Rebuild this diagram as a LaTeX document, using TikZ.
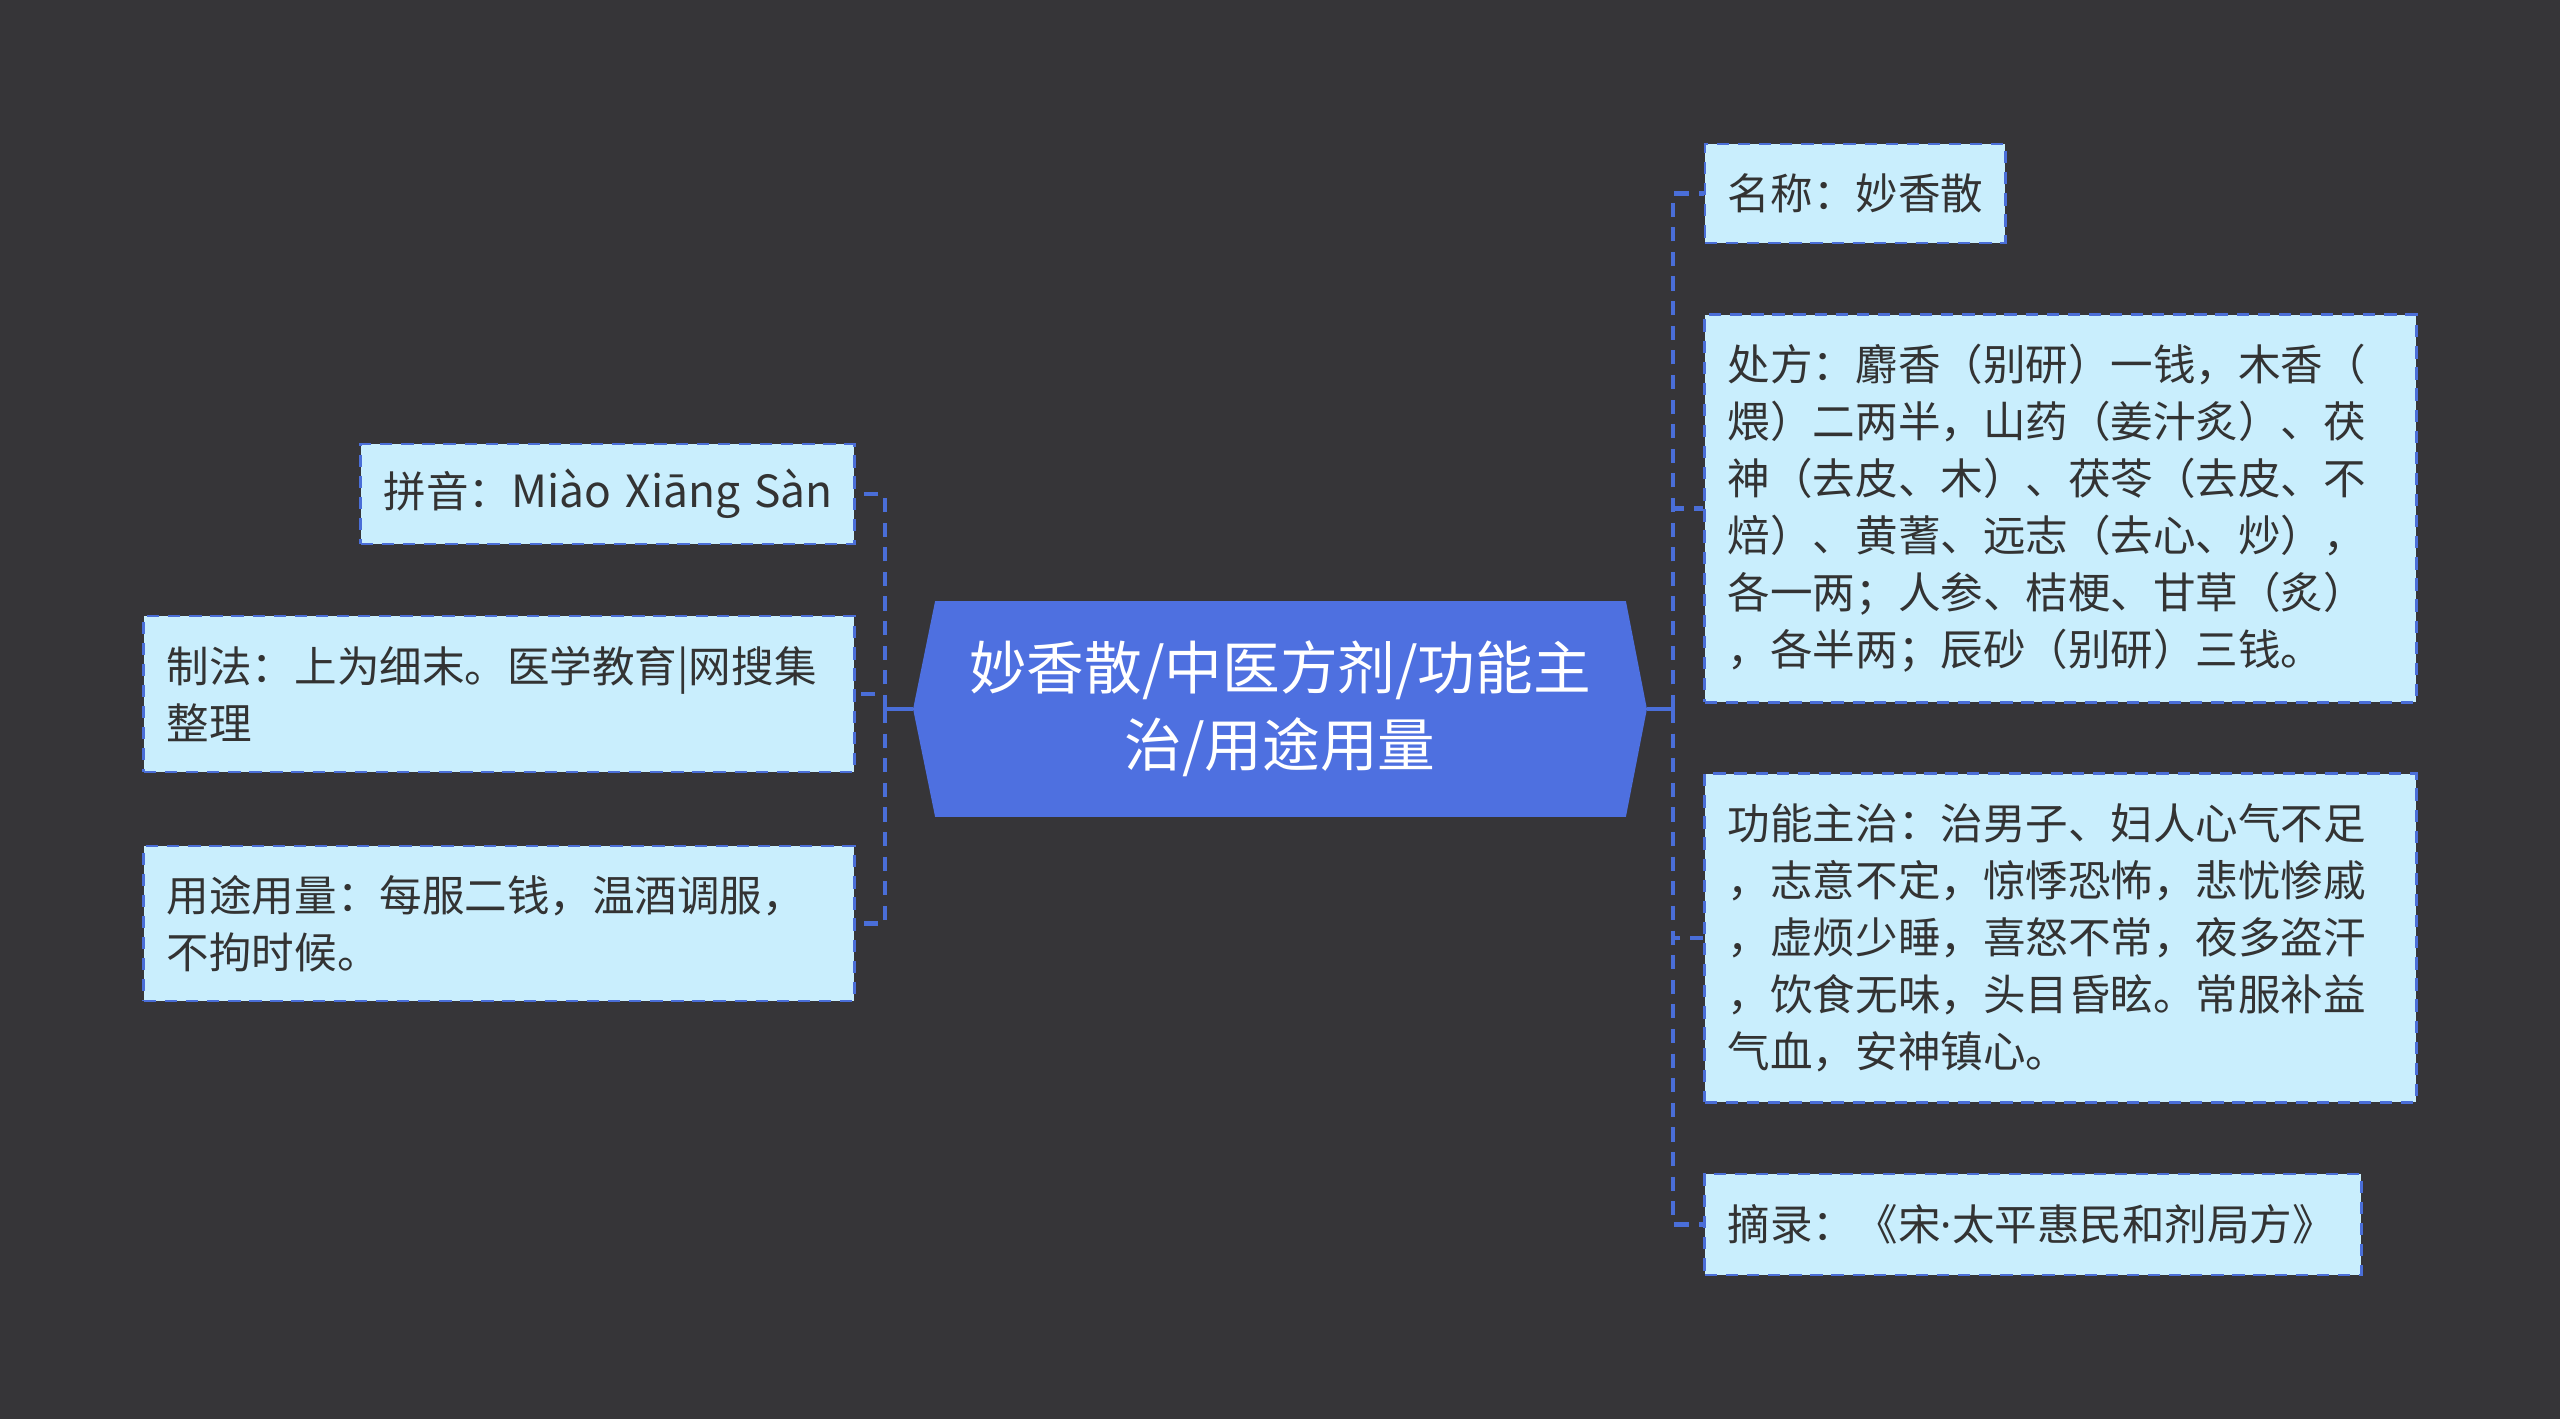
\documentclass[tikz,border=0pt]{standalone}
\usepackage{fontspec}
\usetikzlibrary{calc,backgrounds}
\newfontfamily\cjk{Noto Sans CJK SC}
\newfontfamily\latinsans{Noto Sans}
\definecolor{canvas}{HTML}{363538}
\definecolor{rootblue}{HTML}{4E70E0}
\definecolor{leaffill}{HTML}{C9EEFD}
\definecolor{edge}{HTML}{4A6ED8}
\definecolor{ink}{HTML}{333333}

\begin{document}
\begin{tikzpicture}[x=0.01cm,y=-0.01cm,
  leaf/.style={draw=edge,dash pattern=on 3.5pt off 2.5pt,line width=0.8pt,fill=leaffill,text=ink,
    font=\cjk\fontsize{12.1}{16.2}\selectfont,inner xsep=0.23cm,inner ysep=0pt,align=left},
  branch/.style={edge,line width=1.3pt,dash pattern=on 4pt off 3pt},
  trunk/.style={edge,line width=1.3pt}]
% centre
\node[minimum width=7.32cm,minimum height=2.14cm,text=white,align=center,
  font=\cjk\fontsize{16.4}{22}\selectfont] (root) at (1280,709) {妙香散/中医方剂/功能主\\治/用途用量};
% left side
\node[leaf,minimum width=4.93cm,minimum height=1.00cm,text width=4.47cm] (pinyin) at (607.5,494) {\mbox{拼音：{\fontsize{12.6}{16.2}\selectfont Miào Xiāng Sàn}}};
\node[leaf,minimum width=7.10cm,minimum height=1.56cm,text width=6.64cm] (zhifa) at (499,694) {制法：上为细末。医学教育|网搜集\\整理};
\node[leaf,minimum width=7.10cm,minimum height=1.55cm,text width=6.64cm] (yongtu) at (499,923.5) {用途用量：每服二钱，温酒调服，\\不拘时候。};
% right side
\node[leaf,minimum width=3.00cm,minimum height=0.99cm,text width=2.54cm] (mingcheng) at (1855,193.5) {名称：妙香散};
\node[leaf,minimum width=7.11cm,minimum height=3.87cm,text width=6.65cm] (chufang) at (2060.5,508.5) {处方：麝香（别研）一钱，木香（\\煨）二两半，山药（姜汁炙）、茯\\神（去皮、木）、茯苓（去皮、不\\焙）、黄蓍、远志（去心、炒），\\各一两；人参、桔梗、甘草（炙）\\，各半两；辰砂（别研）三钱。};
\node[leaf,minimum width=7.11cm,minimum height=3.28cm,text width=6.65cm] (gongneng) at (2060.5,938) {功能主治：治男子、妇人心气不足\\，志意不定，惊悸恐怖，悲忧惨戚\\，虚烦少睡，喜怒不常，夜多盗汗\\，饮食无味，头目昏眩。常服补益\\气血，安神镇心。};
\node[leaf,minimum width=6.56cm,minimum height=1.01cm,text width=6.10cm] (zhailu) at (2033,1224.5) {摘录：《宋{\latinsans ·}太平惠民和剂局方》};
\coordinate (lj) at (885,709);
\coordinate (rj) at (1673,709);
\begin{scope}[on background layer]
\fill[canvas] (0,0) rectangle (2560,1419);
\fill[rootblue] (root.west) -- ($(root.north west)+(22,0)$) -- ($(root.north east)+(-21,0)$) -- (root.east)
  -- ($(root.south east)+(-21,0)$) -- ($(root.south west)+(22,0)$) -- cycle;
\end{scope}
\draw[trunk] (root.west) -- (lj);
\draw[trunk] (root.east) -- (rj);
\foreach \n in {pinyin,zhifa,yongtu}
  \draw[branch] (lj) |- (\n.east);
\foreach \n in {mingcheng,chufang,gongneng,zhailu}
  \draw[branch] (rj) |- (\n.west);
\end{tikzpicture}
\end{document}
